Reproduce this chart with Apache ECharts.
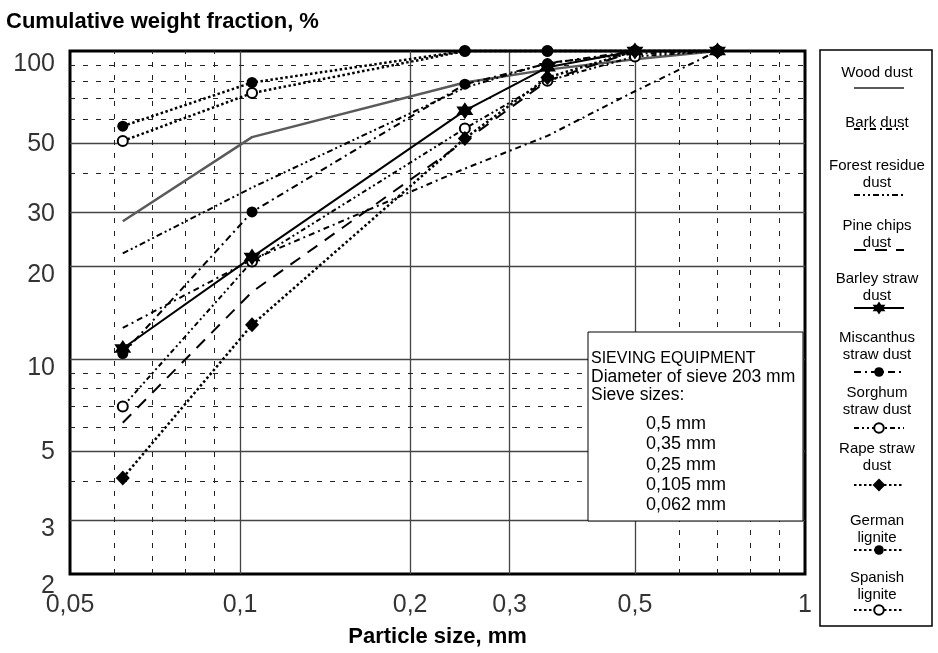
<!DOCTYPE html>
<html>
<head>
<meta charset="utf-8">
<script src="https://cdn.jsdelivr.net/npm/echarts@6/dist/echarts.min.js"></script>
<style>
  html, body { margin: 0; padding: 0; background: #fff; }
  #chart { width: 938px; height: 653px; }
</style>
</head>
<body>
<div id="chart"></div>
<script>
// Sieve openings (mm) at which the cumulative passing fraction was measured
const sieveSizes = [0.062, 0.105, 0.25, 0.35, 0.5, 0.7];

// Cumulative weight fraction (%) passing each sieve
const woodDust            = [28, 52.5, 79, 87, 94, 100];
const barkDust            = [12.6, 21, 41.5, 53, 74, 100];
const forestResidueDust   = [22, 36, 76, 91.5, 98, 100];
const pineChipsDust       = [6.2, 16.5, 51, 80, 100, 100];
const barleyStrawDust     = [10.8, 21.4, 64, 88.5, 100, 100];
const miscanthusStrawDust = [10.4, 30, 78, 91, 100, 100];
const sorghumStrawDust    = [7, 20.7, 56, 80, 96, 100];
const rapeStrawDust       = [4.1, 12.9, 52, 82, 100, 100];
const germanLignite       = [57, 79, 100, 100, 100, 100];
const spanishLignite      = [51, 73, 100, 100, 100, 100];

// Axis ticks
const xTickValues = [0.05, 0.1, 0.2, 0.3, 0.5, 1];
const xTickLabels = ['0,05', '0,1', '0,2', '0,3', '0,5', '1'];
const yTickValues = [2, 3, 5, 10, 20, 30, 50, 100];
const yTickLabels = ['2', '3', '5', '10', '20', '30', '50', '100'];
const xMinorValues = [0.06, 0.07, 0.08, 0.09, 0.6, 0.7, 0.8, 0.9];
const yMinorValues = [4, 6, 7, 8, 9, 40, 60, 70, 80, 90];

// Sieve list printed in the equipment note
const sieveNoteLines = ['0,5 mm', '0,35 mm', '0,25 mm', '0,105 mm', '0,062 mm'];

const FONT = '"Liberation Sans", Arial, Helvetica, sans-serif';
const starPath = 'path://M10 0 L12.89 5 L18.66 5 L15.77 10 L18.66 15 L12.89 15 L10 20 L7.11 15 L1.34 15 L4.23 10 L1.34 5 L7.11 5 Z';

function pairs(values) {
  return sieveSizes.map((s, i) => [s, values[i]]);
}

// name, legend caption, values, line style, marker, drawing order
const seriesDefs = [
  { name: 'Wood dust', caption: 'Wood dust', values: woodDust, z: 5,
    line: { color: '#5a5a5a', width: 2.5, type: 'solid' }, symbol: 'none' },
  { name: 'Bark dust', caption: 'Bark dust', values: barkDust, z: 6,
    line: { color: '#000', width: 2, type: [6, 4, 2, 4] }, symbol: 'none' },
  { name: 'Forest residue dust', caption: 'Forest residue\ndust', values: forestResidueDust, z: 6,
    line: { color: '#000', width: 2, type: [6, 3, 2, 3, 2, 3] }, symbol: 'none' },
  { name: 'Pine chips dust', caption: 'Pine chips\ndust', values: pineChipsDust, z: 6,
    line: { color: '#000', width: 2, type: [12, 9] }, symbol: 'none' },
  { name: 'Barley straw dust', caption: 'Barley straw\ndust', values: barleyStrawDust, z: 12,
    line: { color: '#000', width: 2, type: 'solid' }, symbol: starPath, size: 17, legendSize: 16 },
  { name: 'Miscanthus straw dust', caption: 'Miscanthus\nstraw dust', values: miscanthusStrawDust, z: 9,
    line: { color: '#000', width: 2, type: [7, 4, 2, 4] }, symbol: 'circle', size: 11 },
  { name: 'Sorghum straw dust', caption: 'Sorghum\nstraw dust', values: sorghumStrawDust, z: 10,
    line: { color: '#000', width: 2, type: [5, 3, 2, 3, 2, 3] }, symbol: 'emptyCircle', size: 10 },
  { name: 'Rape straw dust', caption: 'Rape straw\ndust', values: rapeStrawDust, z: 11,
    line: { color: '#000', width: 2.5, type: [2.5, 2.5] }, symbol: 'diamond', size: [14, 15], legendSize: 16 },
  { name: 'German lignite', caption: 'German\nlignite', values: germanLignite, z: 8,
    line: { color: '#000', width: 2.5, type: [2.5, 2.5] }, symbol: 'circle', size: 11 },
  { name: 'Spanish lignite', caption: 'Spanish\nlignite', values: spanishLignite, z: 7,
    line: { color: '#000', width: 2.5, type: [2.5, 2.5] }, symbol: 'emptyCircle', size: 10 }
];

// Legend layout: caption centre (first line) and sample-line centre
const legendRows = [
  { textY: 72,  iconY: 88 },
  { textY: 122, iconY: 129 },
  { textY: 165, iconY: 195 },
  { textY: 225, iconY: 250 },
  { textY: 278, iconY: 308 },
  { textY: 337, iconY: 372 },
  { textY: 392, iconY: 428 },
  { textY: 448, iconY: 485 },
  { textY: 520, iconY: 550 },
  { textY: 577, iconY: 610 }
];

// vertical nudge of the y tick labels
const yLabelShift = [12, 9, 1, 9, 9, 2, 0, 13];

const dataSeries = seriesDefs.map(d => ({
  type: 'line',
  name: d.name,
  data: pairs(d.values),
  symbol: d.symbol,
  symbolSize: d.size || 8,
  showSymbol: d.symbol !== 'none',
  clip: false,
  z: d.z,
  lineStyle: d.line,
  itemStyle: { color: '#000', borderColor: '#000', borderWidth: d.symbol === 'emptyCircle' ? 1.3 : 0 },
  emphasis: { disabled: true },
  animation: false
}));

const majorLine = { color: '#444', width: 1.3, type: 'solid' };
const minorLine = { color: '#222', width: 1, type: [5, 8] };

const gridLines = [];
[0.1, 0.2, 0.3, 0.5].forEach(v => gridLines.push({ xAxis: v, lineStyle: majorLine }));
[3, 5, 10, 20, 30, 50].forEach(v => gridLines.push({ yAxis: v, lineStyle: majorLine }));
xMinorValues.forEach(v => gridLines.push({ xAxis: v, lineStyle: minorLine }));
yMinorValues.forEach(v => gridLines.push({ yAxis: v, lineStyle: minorLine }));

const helperSeries = [
  {
    type: 'line', name: '_grid', data: [[0.05, 2]], symbol: 'none', silent: true, z: 1,
    lineStyle: { opacity: 0 },
    markLine: { symbol: 'none', silent: true, label: { show: false }, animation: false, data: gridLines }
  },
  {
    type: 'scatter', name: '_xticks', symbolSize: 0, silent: true, clip: false, z: 20,
    data: xTickValues.map((v, i) => ({ value: [v, 2], label: { formatter: xTickLabels[i] } })),
    label: { show: true, position: 'bottom', distance: 19, fontSize: 25, color: '#000', fontFamily: FONT }
  },
  {
    type: 'scatter', name: '_yticks', symbolSize: 0, silent: true, clip: false, z: 20,
    data: yTickValues.map((v, i) => ({ value: [0.05, v], label: { formatter: yTickLabels[i], offset: [0, yLabelShift[i]] } })),
    label: { show: true, position: 'left', distance: 15, fontSize: 25, color: '#000', fontFamily: FONT }
  }
];

const legends = seriesDefs.map((d, i) => {
  const h = d.legendSize || 12;
  return {
    data: [d.name],
    left: 853,
    top: legendRows[i].iconY - h / 2,
    itemWidth: 50,
    itemHeight: h,
    padding: 0,
    itemGap: 0,
    selectedMode: false,
    formatter: () => '',
    textStyle: { fontSize: 1 },
    itemStyle: d.symbol === 'none' ? { opacity: 0 } : { color: '#000', borderColor: '#000', borderWidth: d.symbol === 'emptyCircle' ? 1.3 : 0 }
  };
});

const graphics = [
  // legend frame
  { type: 'rect', shape: { x: 820, y: 50, width: 112, height: 576 },
    style: { fill: 'none', stroke: '#000', lineWidth: 1.5 }, z: 30 },
  // sieving note
  { type: 'rect', shape: { x: 588, y: 332, width: 215, height: 189 },
    style: { fill: '#fff', stroke: '#000', lineWidth: 1 }, z: 30 },
  { type: 'text', z: 31, style: { x: 591, y: 359, text: 'SIEVING EQUIPMENT', font: '16px ' + FONT, fill: '#000', verticalAlign: 'middle' } },
  { type: 'text', z: 31, style: { x: 591, y: 377, text: 'Diameter of sieve 203 mm', font: '17.5px ' + FONT, fill: '#000', verticalAlign: 'middle' } },
  { type: 'text', z: 31, style: { x: 591, y: 395, text: 'Sieve sizes:', font: '17.5px ' + FONT, fill: '#000', verticalAlign: 'middle' } }
];
sieveNoteLines.forEach((t, i) => {
  graphics.push({ type: 'text', z: 31, style: { x: 646, y: 424 + i * 20.3, text: t, font: '18px ' + FONT, fill: '#000', verticalAlign: 'middle' } });
});
seriesDefs.forEach((d, i) => {
  graphics.push({ type: 'text', z: 31, style: { x: 877, y: legendRows[i].textY - 8, text: d.caption, font: '15px ' + FONT, fill: '#000', align: 'center', verticalAlign: 'top', lineHeight: 17 } });
});

const chart = echarts.init(document.getElementById('chart'), null, { renderer: 'canvas' });
chart.setOption({
  animation: false,
  backgroundColor: '#fff',
  title: {
    text: 'Cumulative weight fraction, %',
    left: 6, top: 11, padding: 0,
    textStyle: { fontFamily: FONT, fontWeight: 'bold', fontSize: 22, color: '#000' }
  },
  grid: { left: 70, right: 133, top: 51, bottom: 75, show: true, borderColor: '#000', borderWidth: 3, backgroundColor: 'transparent' },
  xAxis: {
    type: 'log', logBase: 10, min: 0.05, max: 1,
    axisLine: { show: false }, axisTick: { show: false }, axisLabel: { show: false }, splitLine: { show: false },
    name: 'Particle size, mm', nameLocation: 'middle', nameGap: 52,
    nameTextStyle: { fontFamily: FONT, fontWeight: 'bold', fontSize: 22, color: '#000' }
  },
  yAxis: {
    type: 'log', logBase: 10, min: 2, max: 100,
    axisLine: { show: false }, axisTick: { show: false }, axisLabel: { show: false }, splitLine: { show: false }
  },
  legend: legends,
  graphic: graphics,
  series: helperSeries.concat(dataSeries)
});
</script>
</body>
</html>
